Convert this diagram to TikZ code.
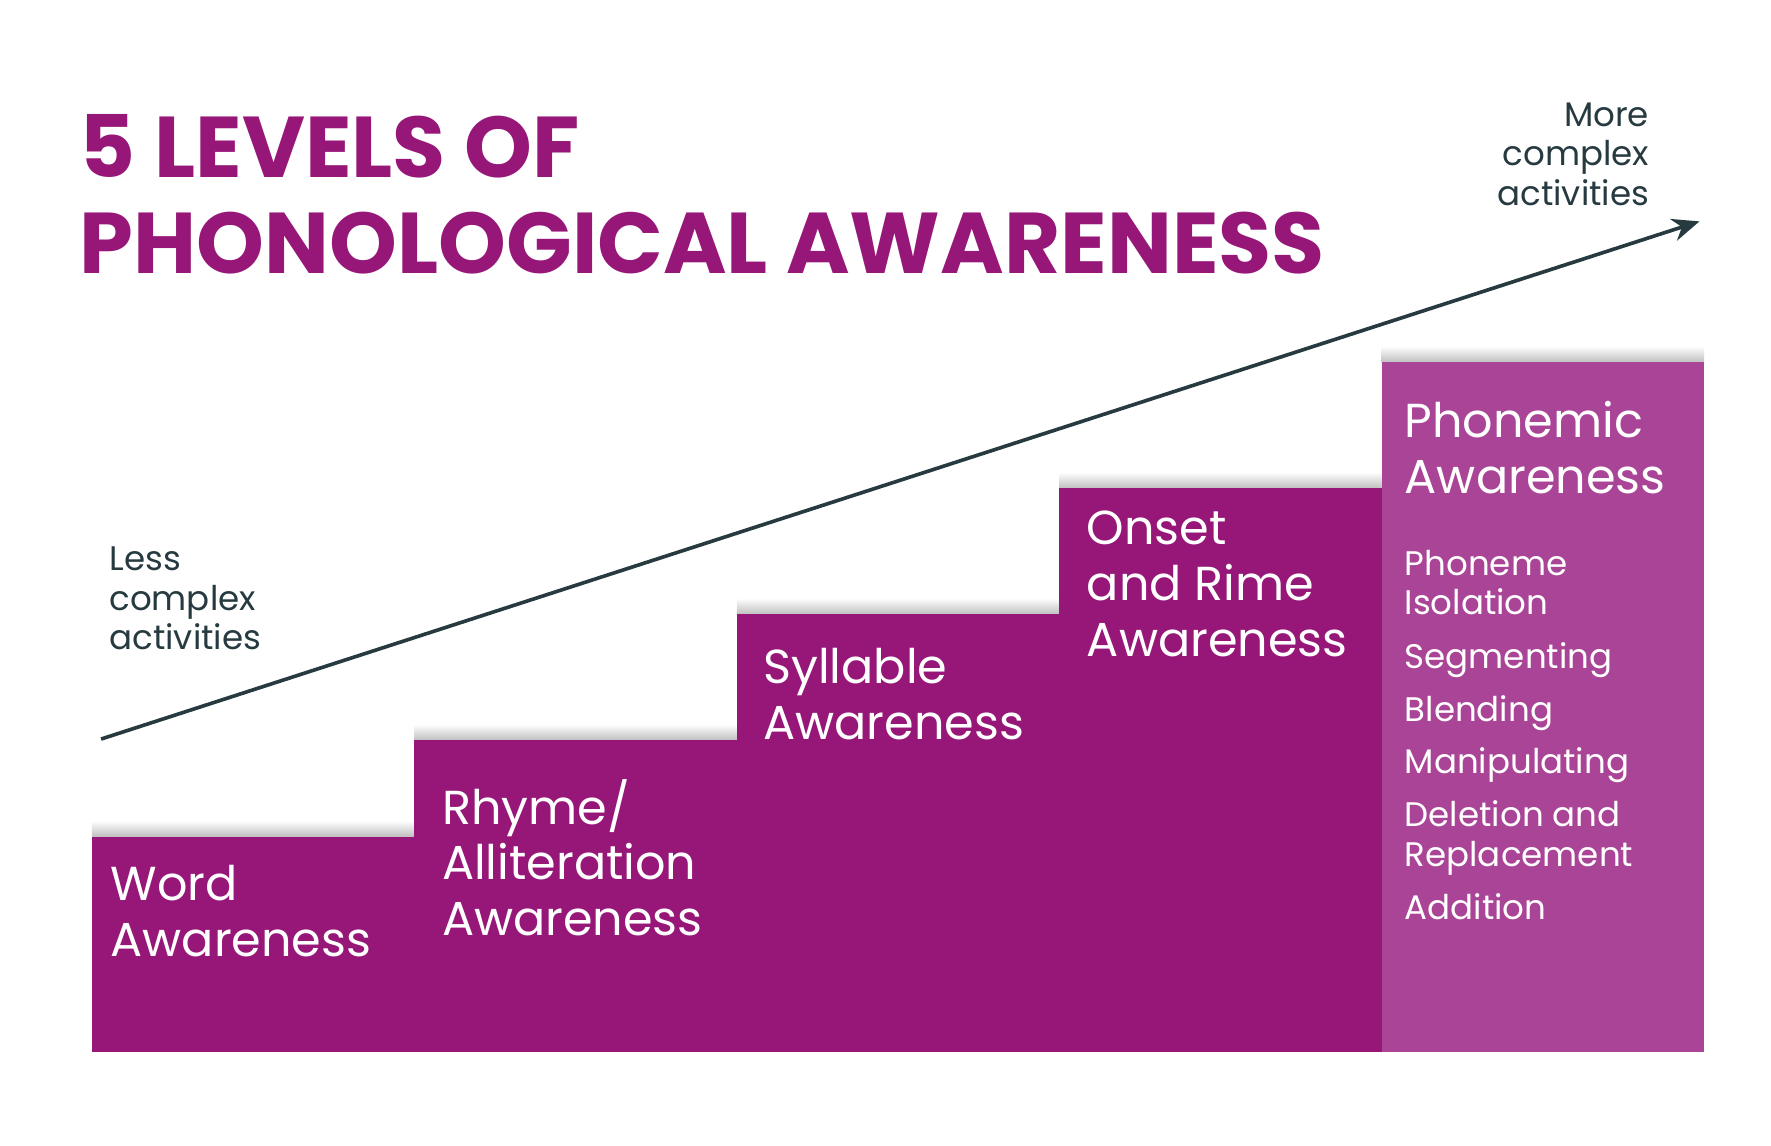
\documentclass[tikz,border=0pt]{standalone}
\usepackage{fontspec}
\setmainfont{Poppins}
\usetikzlibrary{arrows.meta}
\definecolor{mag}{HTML}{961778}
\definecolor{lmag}{HTML}{A94497}
\definecolor{dk}{HTML}{263A40}
\tikzset{
  lvl/.style={fill=mag,draw=none},
  shad/.style={top color=white,bottom color=black!25,draw=none},
  big/.style={anchor=north west,inner sep=0pt,align=left,text=white,font=\fontsize{21}{24.5}\selectfont},
  small/.style={anchor=north west,inner sep=0pt,align=left,text=white,font=\fontsize{15}{17.5}\selectfont},
  side/.style={inner sep=0pt,text=dk,font=\fontsize{15}{17.5}\selectfont},
}
\begin{document}
\begin{tikzpicture}[x=0.5pt,y=-0.5pt]
\useasboundingbox (0,0) rectangle (1560,1009);
% shadows
\foreach \a/\b/\t in {81/365/737,365/649/652,649/933/541,933/1217/430,1217/1501/319}{
  \shade[shad] (\a,\t-14) rectangle (\b,\t);
}
\fill[lvl] (81,737) rectangle (365,927);
\fill[lvl] (365,652) rectangle (649,927);
\fill[lvl] (649,541) rectangle (933,927);
\fill[lvl] (933,430) rectangle (1217,927);
\fill[lmag] (1217,319) rectangle (1501,927);
\node[big] (w) at (97,762) {Word\\Awareness};
\node[big] (r) at (389,686) {Rhyme/\\Alliteration\\Awareness};
\node[big] (s) at (672,571) {Syllable\\Awareness};
\node[big] (o) at (957,450) {Onset\\and Rime\\Awareness};
\node[big] (p) at (1237,353) {Phonemic\\Awareness};
\node[small] (i1) at (1237,484) {Phoneme\\Isolation};
\node[small] (i2) at (1237,566) {Segmenting};
\node[small] (i3) at (1237,612) {Blending};
\node[small] (i4) at (1237,658) {Manipulating};
\node[small] (i5) at (1237,705) {Deletion and\\Replacement};
\node[small] (i6) at (1237,787) {Addition};
\node[anchor=north west,inner sep=0pt,align=left,text=mag,font=\fontsize{38}{42.5}\bfseries\selectfont] (t) at (70,100) {5 LEVELS OF\\PHONOLOGICAL AWARENESS};
\node[side,anchor=north west,align=left] (l) at (96,481) {Less\\complex\\activities};
\node[side,anchor=north east,align=right] (m) at (1453,90) {More\\complex\\activities};
\coordinate (a0) at (89,651);
\coordinate (a1) at (1497,195);
\draw[dk,line width=1.6pt,-{Stealth[length=12pt,width=10pt]}] (a0) -- (a1);
\end{tikzpicture}
\end{document}
